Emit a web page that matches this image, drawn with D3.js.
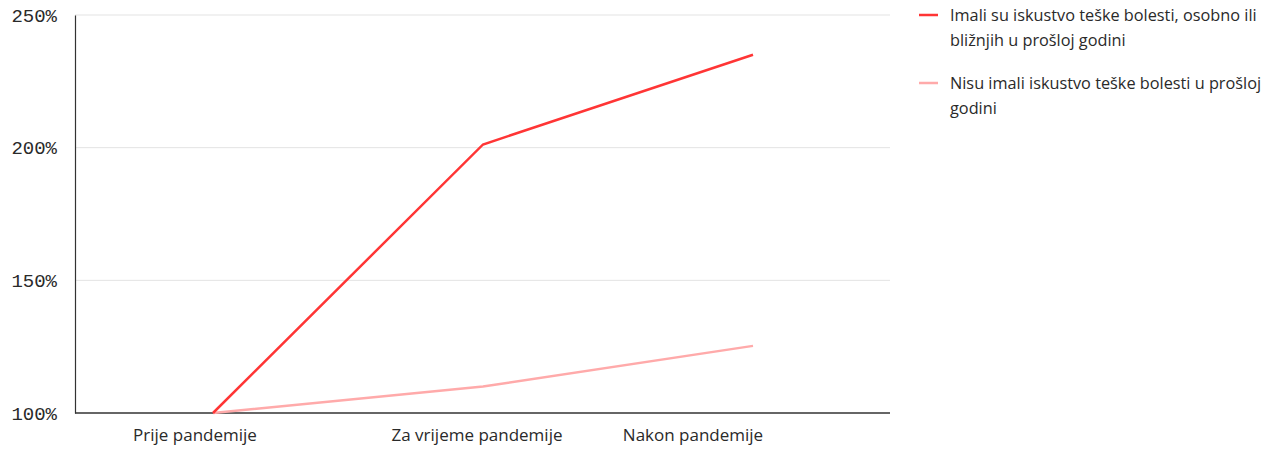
<!DOCTYPE html>
<html>
<head>
<meta charset="utf-8">
<script src="https://cdn.jsdelivr.net/npm/d3@7"></script>
<style>
  html, body { margin: 0; padding: 0; background: #fff; }
  svg { display: block; }
</style>
</head>
<body>
<svg id="chart" width="1279" height="449"></svg>
<script>
// Periods on the x axis
const categories = ["Prije pandemije", "Za vrijeme pandemije", "Nakon pandemije"];
// Index values (Prije pandemije = 100%)
const illnessValues = [100, 201.2, 235];
const noIllnessValues = [100, 110, 125.3];
// Series names (legend, each line pre-wrapped)
const seriesNames = [
  ["Imali su iskustvo teške bolesti, osobno ili", "bližnjih u prošloj godini"],
  ["Nisu imali iskustvo teške bolesti u prošloj", "godini"]
];
const yTicks = [100, 150, 200, 250];

const series = [
  { values: illnessValues, color: "#ff3535", name: seriesNames[0] },
  { values: noIllnessValues, color: "#ffaaaa", name: seriesNames[1] }
];

const svg = d3.select("#chart");
const margin = { left: 75, right: 389, top: 15, bottom: 36 };
const W = 1279, H = 449;
const x0 = margin.left, x1 = W - margin.right;
const y0 = H - margin.bottom, y1 = margin.top;

const x = d3.scaleBand().domain(categories).range([x0 + 3, x1 - 2]).padding(0);
const y = d3.scaleLinear().domain([100, 250]).range([y0, y1]);

const textFont = "'Open Sans', 'Noto Sans', sans-serif";

// Gridlines
svg.append("g")
  .selectAll("line")
  .data(yTicks.filter(t => t > 100))
  .join("line")
  .attr("x1", x0).attr("x2", x1)
  .attr("y1", d => y(d)).attr("y2", d => y(d))
  .attr("stroke", "#e3e3e3").attr("stroke-width", 1);

// Y axis
const yAxis = svg.append("g")
  .attr("transform", `translate(${x0},0)`)
  .call(d3.axisLeft(y).tickValues(yTicks).tickSize(0).tickPadding(18).tickFormat(d => d + "%"));
yAxis.select(".domain").attr("stroke", "#333").attr("stroke-width", 1.2);
yAxis.selectAll("text")
  .attr("font-family", "'Liberation Mono', monospace")
  .attr("font-size", 19)
  .attr("fill", "#2a2a2a");

// X axis (baseline spans the full plot width)
const labelShift = [-18, -6, -60];
const xAxis = svg.append("g")
  .attr("transform", `translate(0,${y0})`)
  .call(d3.axisBottom(x).tickSize(0).tickPadding(16));
xAxis.select(".domain").remove();
svg.append("line")
  .attr("x1", x0).attr("x2", x1)
  .attr("y1", y0).attr("y2", y0)
  .attr("stroke", "#333").attr("stroke-width", 1.5);
xAxis.selectAll("text")
  .attr("font-family", textFont)
  .attr("font-size", 17)
  .attr("fill", "#2a2a2a")
  .attr("dx", (d, i) => labelShift[i]);

// Lines
const line = d3.line()
  .x((d, i) => x(categories[i]) + x.bandwidth() / 2)
  .y(d => y(d));

svg.append("g")
  .selectAll("path")
  .data(series.slice().reverse())
  .join("path")
  .attr("d", d => line(d.values))
  .attr("fill", "none")
  .attr("stroke", d => d.color)
  .attr("stroke-width", 2.5)
  .attr("stroke-linejoin", "miter");

// Legend
const legend = svg.append("g").attr("transform", "translate(919,15)");
const item = legend.selectAll("g")
  .data(series)
  .join("g")
  .attr("transform", (d, i) => `translate(0,${i * 68})`);
item.append("line")
  .attr("x1", 0).attr("x2", 19).attr("y1", 0).attr("y2", 0)
  .attr("stroke", d => d.color).attr("stroke-width", 2.5);
item.append("text")
  .attr("font-family", textFont)
  .attr("font-size", 16.3)
  .attr("fill", "#2a2a2a")
  .selectAll("tspan")
  .data(d => d.name)
  .join("tspan")
  .attr("x", 31)
  .attr("y", (d, i) => 6 + i * 25)
  .text(d => d);
</script>
</body>
</html>
